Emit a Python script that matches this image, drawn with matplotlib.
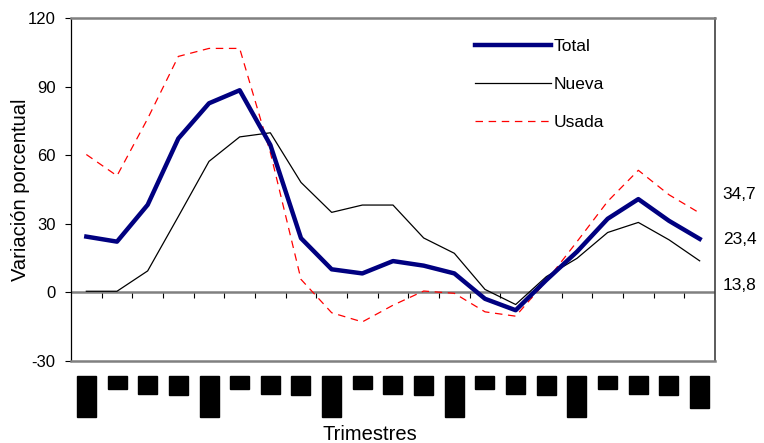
import matplotlib
matplotlib.use('Agg')
import matplotlib.pyplot as plt

plt.rcParams['font.family'] = ['Liberation Sans', 'DejaVu Sans']
plt.rcParams['axes.unicode_minus'] = False

quarters = ['2000', 'II', 'III', 'IV', '2001', 'II', 'III', 'IV', '2002', 'II', 'III',
            'IV', '2003', 'II', 'III', 'IV', '2004', 'II', 'III', 'IV', 'I-05']
total = [24.4, 22.2, 38.3, 67.3, 82.7, 88.4, 64.5, 23.7, 10.1, 8.3, 13.7,
         11.7, 8.3, -2.8, -7.8, 5.4, 17.8, 32.2, 40.8, 31.3, 23.4]
nueva = [0.5, 0.5, 9.4, 33.2, 57.3, 68.0, 69.8, 48.1, 35.0, 38.2, 38.2,
         23.8, 17.1, 1.3, -5.3, 6.9, 14.9, 26.2, 30.6, 23.0, 13.8]
usada = [60.3, 51.0, 76.0, 103.2, 106.7, 106.7, 61.2, 5.7, -8.9, -12.9, -5.6,
         0.6, -0.4, -8.5, -10.4, 5.0, 22.2, 39.8, 53.4, 42.7, 34.7]
end_labels = ['34,7', '23,4', '13,8']
end_label_y = [42.7, 23.0, 3.2]

x = list(range(1, len(quarters) + 1))

fig = plt.figure(figsize=(7.64, 4.43), dpi=100)
ax = fig.add_axes([71 / 764, 1 - 361 / 443, 644 / 764, 343 / 443])

ax.plot(x, total, color='#000080', lw=3.2, label='Total', zorder=4)
ax.plot(x, nueva, color='black', lw=0.9, label='Nueva', zorder=3)
ax.plot(x, usada, color='red', lw=0.9, dashes=(6, 4.5), label='Usada', zorder=3)

ax.set_xlim(0.5, len(quarters) + 0.5)
ax.set_ylim(-30, 120)
ax.set_yticks([-30, 0, 30, 60, 90, 120])
ax.tick_params(axis='y', direction='out', length=4, width=0.8, pad=7, labelsize=12)

# category axis at zero, with ticks between quarters
ax.axhline(0, color='#808080', lw=1.8, zorder=2)
zero_ax = ax.secondary_xaxis(0.2)
zero_ax.set_xticks([i + 0.5 for i in x[:-1]])
zero_ax.set_xticklabels([])
zero_ax.tick_params(direction='out', length=4, width=0.8)
zero_ax.spines['bottom'].set_visible(False)

# quarter labels at the bottom of the plot area
ax.set_xticks(x)
ax.set_xticklabels(quarters, rotation=90, va='top', ha='center', fontsize=12)
ax.tick_params(axis='x', length=0, pad=12)
for lab in ax.get_xticklabels():
    lab.set_bbox(dict(facecolor='black', edgecolor='black', boxstyle='square,pad=0.12'))

for side in ['top', 'bottom', 'right']:
    ax.spines[side].set_color('#808080')
    ax.spines[side].set_linewidth(1.8)
ax.spines['right'].set_color('#404040')
ax.spines['right'].set_linewidth(1.2)
ax.spines['left'].set_linewidth(0.9)

ax.set_ylabel('Variación porcentual', fontsize=14.5)
ax.yaxis.set_label_coords(-0.064, 0.5)
fig.text(370 / 764, 3 / 443, 'Trimestres', fontsize=14.5, ha='center', va='baseline')

for txt, yv in zip(end_labels, end_label_y):
    ax.text(1.012, yv, txt, transform=ax.get_yaxis_transform(), fontsize=12.5,
            va='center', ha='left')

ax.legend(loc='upper left', bbox_to_anchor=(475 / 764, 1 - 39 / 443),
          bbox_transform=fig.transFigure, frameon=False, fontsize=12.5,
          handlelength=4.4, handletextpad=0.15, labelspacing=1.3,
          borderpad=0, borderaxespad=0)

plt.savefig('out.png', dpi=100)
